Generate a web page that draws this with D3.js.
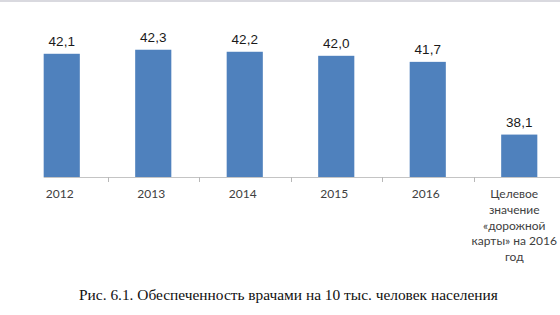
<!DOCTYPE html>
<html>
<head>
<meta charset="utf-8">
<script src="https://cdn.jsdelivr.net/npm/d3@7"></script>
<style>
  body { margin: 0; background: #fff; }
  svg { display: block; }
</style>
</head>
<body>
<div id="okvir"></div>
<script>
// podaci
const kategorije = ["2012", "2013", "2014", "2015", "2016", "cilj"]
const oznakeKategorija = [
  ["2012"], ["2013"], ["2014"], ["2015"], ["2016"],
  ["Целевое", "значение", "«дорожной", "карты» на 2016", "год"]
]
const vrijednosti = [42.1, 42.3, 42.2, 42.0, 41.7, 38.1]
const naslovGrafa = "Рис. 6.1. Обеспеченность врачами на 10 тыс. человек населения"

function crtaj() {
  const sirina = 560
  const visina = 315
  const osY = 177

  const svg = d3.select("#okvir")
    .append("svg")
      .attr("width", sirina)
      .attr("height", visina)

  // siva crta na vrhu
  svg.append("rect")
    .attr("x", 0).attr("y", 0)
    .attr("width", sirina).attr("height", 2)
    .attr("fill", "#d9d9df")

  const x = d3.scaleBand()
    .domain(kategorije)
    .range([16, 565])
    .padding(0)

  const y = d3.scaleLinear()
    .domain([36, 44])
    .range([osY, osY - 8 * 20.2])

  const sirinaStupca = x.bandwidth() * 0.395
  const ruFormat = d3.formatLocale({ decimal: ",", thousands: " ", grouping: [3], currency: ["", ""] }).format(".1f")

  // os x
  svg.append("line")
    .attr("x1", x(kategorije[0]) + (x.bandwidth() - sirinaStupca) / 2)
    .attr("x2", sirina)
    .attr("y1", osY + 0.5)
    .attr("y2", osY + 0.5)
    .attr("stroke", "#c4c4c4")

  svg.selectAll(".kvacica")
    .data(kategorije.slice(1))
    .join("line")
      .attr("class", "kvacica")
      .attr("x1", d => Math.round(x(d)) + 0.5)
      .attr("x2", d => Math.round(x(d)) + 0.5)
      .attr("y1", osY)
      .attr("y2", osY + 5)
      .attr("stroke", "#b8b8b8")

  // stupci
  svg.selectAll(".stupac")
    .data(vrijednosti)
    .join("rect")
      .attr("class", "stupac")
      .attr("x", (d, i) => x(kategorije[i]) + (x.bandwidth() - sirinaStupca) / 2)
      .attr("y", d => y(d))
      .attr("width", sirinaStupca)
      .attr("height", d => osY - y(d))
      .attr("fill", "#4f81bd")

  // vrijednosti
  svg.selectAll(".vrijednost")
    .data(vrijednosti)
    .join("text")
      .attr("class", "vrijednost")
      .attr("x", (d, i) => x(kategorije[i]) + x.bandwidth() / 2)
      .attr("y", d => y(d) - 8)
      .attr("text-anchor", "middle")
      .style("font-family", "'Liberation Sans', Arial, sans-serif")
      .style("font-size", "13.5px")
      .style("fill", "#1a1a1a")
      .text(d => ruFormat(d))

  // oznake kategorija
  const oznake = svg.selectAll(".kategorija")
    .data(oznakeKategorija)
    .join("text")
      .attr("class", "kategorija")
      .attr("text-anchor", "middle")
      .style("font-family", "Lato, 'Open Sans', sans-serif")
      .style("font-size", "12px")
      .style("fill", "#404040")
      .attr("transform", (d, i) => `translate(${x(kategorije[i]) + x.bandwidth() / 2 - (i == 5 ? 5 : 2)}, 198)`)

  oznake.selectAll("tspan")
    .data(d => d)
    .join("tspan")
      .attr("x", 0)
      .attr("y", (d, i) => i * 15.8)
      .text(d => d)

  // naslov
  svg.append("text")
    .attr("x", 288.5)
    .attr("y", 300)
    .attr("text-anchor", "middle")
    .attr("font-family", "Liberation Serif, DejaVu Serif, serif")
    .attr("font-size", 15.4)
    .attr("fill", "#111")
    .text(naslovGrafa)
}
crtaj()
</script>
</body>
</html>
